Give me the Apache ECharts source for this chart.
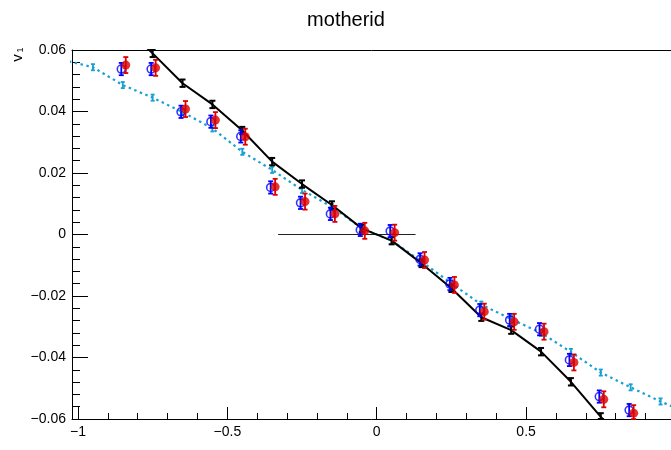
<!DOCTYPE html>
<html>
<head>
<meta charset="utf-8">
<script src="https://cdn.jsdelivr.net/npm/echarts@6/dist/echarts.min.js"></script>
<style>html,body{margin:0;padding:0;background:#fff}#c{width:671px;height:450px}</style>
</head>
<body>
<div id="c"></div>
<script>
// ---- data ----
const titleText = 'motherid';
const xTickLabels = [-1, -0.5, 0, 0.5];
const xMinorTicks = [-1, -0.9, -0.8, -0.7, -0.6, -0.5, -0.4, -0.3, -0.2, -0.1, 0, 0.1, 0.2, 0.3, 0.4, 0.5, 0.6, 0.7, 0.8, 0.9];

const binX = [-0.85, -0.75, -0.65, -0.55, -0.45, -0.35, -0.25, -0.15, -0.05, 0.05, 0.15, 0.25, 0.35, 0.45, 0.55, 0.65, 0.75, 0.85];
const blueV = [0.0538, 0.0538, 0.0399, 0.0367, 0.0319, 0.0153, 0.0103, 0.0067, 0.0015, 0.0011, -0.0081, -0.0161, -0.0246, -0.0278, -0.0308, -0.0408, -0.0527, -0.0571];
const blueErr = [0.0020, 0.0020, 0.0020, 0.0020, 0.0020, 0.0020, 0.0020, 0.0020, 0.0020, 0.0020, 0.0020, 0.0020, 0.0020, 0.0020, 0.0020, 0.0020, 0.0020, 0.0020];
const redV = [0.0551, 0.0542, 0.0408, 0.0372, 0.0318, 0.0155, 0.0107, 0.0067, 0.0012, 0.0006, -0.0083, -0.0164, -0.0251, -0.0284, -0.0316, -0.0416, -0.0536, -0.0581];
const redErr = [0.0026, 0.0026, 0.0026, 0.0026, 0.0026, 0.0026, 0.0026, 0.0026, 0.0026, 0.0026, 0.0026, 0.0026, 0.0026, 0.0026, 0.0026, 0.0026, 0.0026, 0.0026];

const blackX = [-0.85, -0.75, -0.65, -0.55, -0.45, -0.35, -0.25, -0.15, -0.05, 0.05, 0.15, 0.25, 0.35, 0.45, 0.55, 0.65, 0.75, 0.85];
const blackV = [0.0680, 0.0589, 0.0492, 0.0423, 0.0338, 0.0237, 0.0164, 0.0096, 0.0020, -0.0020, -0.0094, -0.0175, -0.0269, -0.0311, -0.0381, -0.0479, -0.0593, -0.0690];
const blackErr = [0.0012, 0.0012, 0.0012, 0.0012, 0.0012, 0.0012, 0.0012, 0.0012, 0.0012, 0.0012, 0.0012, 0.0012, 0.0012, 0.0012, 0.0012, 0.0012, 0.0012, 0.0012];

const cyanX = [-1.05, -0.95, -0.85, -0.75, -0.65, -0.55, -0.45, -0.35, -0.25, -0.15, -0.05, 0.05, 0.15, 0.25, 0.35, 0.45, 0.55, 0.65, 0.75, 0.85, 0.95, 1.05];
const cyanV = [0.0568, 0.0544, 0.0486, 0.0445, 0.0398, 0.0345, 0.0269, 0.0210, 0.0145, 0.0090, 0.0020, -0.0020, -0.0088, -0.0159, -0.0228, -0.0275, -0.0320, -0.0382, -0.0449, -0.0497, -0.0543, -0.0585];
const cyanErr = [0.0010, 0.0010, 0.0010, 0.0010, 0.0010, 0.0010, 0.0010, 0.0010, 0.0010, 0.0010, 0.0010, 0.0010, 0.0010, 0.0010, 0.0010, 0.0010, 0.0010, 0.0010, 0.0010, 0.0010, 0.0010, 0.0010];

const zeroLineX = [-0.33, 0.13];
const zeroLineY = [0, 0];

const blueOffset = -0.005;
const redOffset = 0.010;

// ---- chart ----
const FONT = '"Liberation Sans", Arial, Helvetica, sans-serif';
const XMIN = -1.02, XMAX = 0.985, YMIN = -0.06, YMAX = 0.06;
const minus = s => String(s).replace('-', '\u2212');

function zip(xs, ys, off) { return xs.map((x, i) => [x + (off || 0), ys[i]]); }
function zip3(xs, ys, es, off) { return xs.map((x, i) => [x + (off || 0), ys[i], es[i]]); }

function errBars(color, capHalf, lw) {
  return function (params, api) {
    const x = api.value(0), y = api.value(1), e = api.value(2);
    if (y > YMAX || y < YMIN || x < XMIN || x > XMAX) return null;
    const t = api.coord([x, Math.min(y + e, YMAX)]);
    const b = api.coord([x, Math.max(y - e, YMIN)]);
    const st = { stroke: color, lineWidth: lw };
    const ch = [{ type: 'line', shape: { x1: t[0], y1: t[1], x2: b[0], y2: b[1] }, style: st }];
    if (capHalf > 0) {
      ch.push({ type: 'line', shape: { x1: t[0] - capHalf, y1: t[1], x2: t[0] + capHalf, y2: t[1] }, style: st });
      ch.push({ type: 'line', shape: { x1: b[0] - capHalf, y1: b[1], x2: b[0] + capHalf, y2: b[1] }, style: st });
    }
    return { type: 'group', children: ch };
  };
}

const chart = echarts.init(document.getElementById('c'), null, { renderer: 'canvas' });
chart.setOption({
  animation: false,
  backgroundColor: '#ffffff',
  textStyle: { fontFamily: FONT },
  grid: { left: 72, top: 50, right: 0, bottom: 31, show: false, containLabel: false },
  graphic: [
    { type: 'text', x: 346, y: 20, style: { text: titleText, font: '20px ' + FONT, fill: '#000', align: 'center', verticalAlign: 'middle' } },
    { type: 'text', x: 18, y: 58, rotation: Math.PI / 2, style: { text: 'v', font: '15px ' + FONT, fill: '#000', align: 'center', verticalAlign: 'middle' } },
    { type: 'text', x: 21, y: 50, rotation: Math.PI / 2, style: { text: '1', font: '9px ' + FONT, fill: '#000', align: 'center', verticalAlign: 'middle' } }
  ],
  xAxis: [
    {
      type: 'value', min: XMIN, max: XMAX, gridIndex: 0, position: 'bottom',
      axisLine: { show: true, onZero: false, lineStyle: { color: '#000', width: 1 } },
      axisTick: { show: true, inside: true, length: 12, customValues: xTickLabels, lineStyle: { color: '#000' } },
      axisLabel: { show: true, customValues: xTickLabels, margin: 6, fontSize: 14, color: '#000', fontFamily: FONT, formatter: v => minus(v) },
      splitLine: { show: false }
    },
    {
      type: 'value', min: XMIN, max: XMAX, gridIndex: 0, position: 'bottom',
      axisLine: { show: false, onZero: false },
      axisTick: { show: true, inside: true, length: 6, customValues: xMinorTicks, lineStyle: { color: '#000' } },
      axisLabel: { show: false },
      splitLine: { show: false }
    },
    {
      type: 'value', min: XMIN, max: XMAX, gridIndex: 0, position: 'top',
      axisLine: { show: true, onZero: false, lineStyle: { color: '#000', width: 1 } },
      axisTick: { show: false }, axisLabel: { show: false }, splitLine: { show: false }
    }
  ],
  yAxis: {
    type: 'value', min: YMIN, max: YMAX, interval: 0.02,
    axisLine: { show: true, onZero: false, lineStyle: { color: '#000', width: 1 } },
    axisTick: { show: true, inside: true, length: 16, lineStyle: { color: '#000' } },
    minorTick: { show: true, splitNumber: 5, length: 8, lineStyle: { color: '#000' } },
    axisLabel: { margin: 6, fontSize: 14, color: '#000', fontFamily: FONT, formatter: v => Math.abs(v) < 1e-9 ? '0' : minus(v.toFixed(2)) },
    splitLine: { show: false }, minorSplitLine: { show: false }
  },
  series: [
    { type: 'line', name: 'zero', data: zip(zeroLineX, zeroLineY), symbol: 'none', lineStyle: { color: '#222', width: 1 }, z: 1 },
    { type: 'line', name: 'cyan', data: zip(cyanX, cyanV), symbol: 'none', lineStyle: { color: '#18a0d4', width: 2.2, type: [2.5, 3.5] }, z: 2 },
    { type: 'custom', name: 'cyanErr', data: zip3(cyanX, cyanV, cyanErr), renderItem: errBars('#18a0d4', 2, 1.8), z: 2 },
    { type: 'line', name: 'black', data: zip(blackX, blackV), symbol: 'none', lineStyle: { color: '#000', width: 2 }, z: 3 },
    { type: 'custom', name: 'blackErr', data: zip3(blackX, blackV, blackErr), renderItem: errBars('#000', 3, 2), z: 3 },
    { type: 'custom', name: 'blueErr', data: zip3(binX, blueV, blueErr, blueOffset), renderItem: errBars('#0000ff', 2.5, 1.8), z: 4 },
    { type: 'scatter', name: 'blue', data: zip(binX, blueV, blueOffset), symbol: 'circle', symbolSize: 8, itemStyle: { color: 'rgba(0,0,0,0)', borderColor: '#0000ff', borderWidth: 1.6 }, z: 4 },
    { type: 'custom', name: 'redErr', data: zip3(binX, redV, redErr, redOffset), renderItem: errBars('#dd0000', 2.5, 1.8), z: 5 },
    { type: 'scatter', name: 'red', data: zip(binX, redV, redOffset), symbol: 'circle', symbolSize: 9, itemStyle: { color: '#dd0000' }, z: 5 }
  ]
});
</script>
</body>
</html>
